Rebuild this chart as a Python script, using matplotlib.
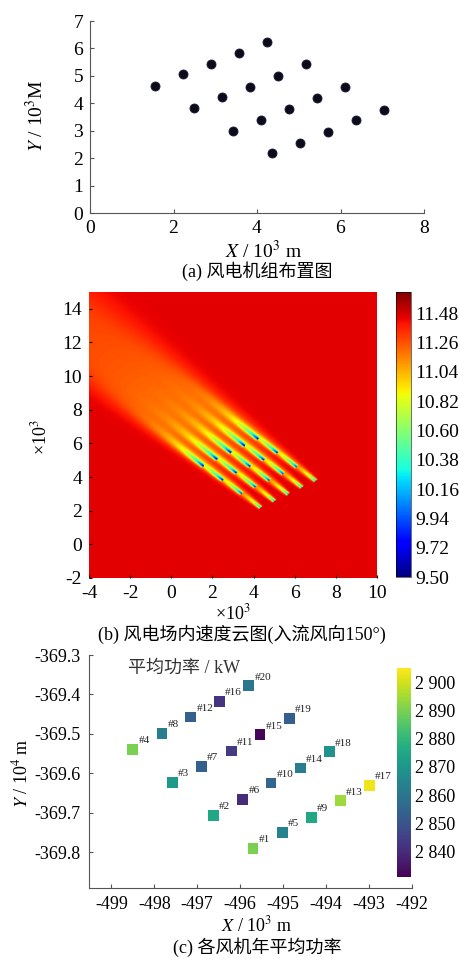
import numpy as np
import matplotlib
matplotlib.use('Agg')
import matplotlib.pyplot as plt

plt.rcParams['font.family'] = ['Liberation Serif', 'Noto Sans CJK SC']
plt.rcParams['mathtext.fontset'] = 'stix'
plt.rcParams['axes.unicode_minus'] = False

# (a) turbine layout, 10^3 m, turbines #1..#20
turb_x = [4.35, 3.43, 2.50, 1.56, 5.02, 4.10, 3.17, 2.22, 5.69, 4.77,
          3.84, 2.90, 6.36, 5.44, 4.51, 3.57, 7.03, 6.11, 5.17, 4.23]
turb_y = [2.17, 3.00, 3.81, 4.64, 2.57, 3.40, 4.23, 5.05, 2.97, 3.79,
          4.61, 5.45, 3.38, 4.19, 5.01, 5.85, 3.77, 4.59, 5.43, 6.25]

# (b) wind speed colour scale
spd_ticks = [9.50, 9.72, 9.94, 10.16, 10.38, 10.60, 10.82, 11.04, 11.26, 11.48]
spd_min, spd_max = 9.50, 11.64
u_inf = 11.45          # free stream speed
flow_deg = 135.5       # wake direction in plot coords

# (c) turbine positions (x: 10^3 m, y: 10^4 m) and mean power (kW)
pos_x = [-495.70, -496.63, -497.58, -498.50, -495.02, -495.94, -496.90, -497.82,
         -494.34, -495.28, -496.21, -497.15, -493.67, -494.60, -495.54, -496.49,
         -492.99, -493.92, -494.85, -495.80]
pos_y = [-369.790, -369.706, -369.623, -369.539, -369.749, -369.666, -369.582, -369.499,
         -369.711, -369.624, -369.543, -369.457, -369.669, -369.586, -369.502, -369.418,
         -369.630, -369.545, -369.461, -369.378]
power = [2890, 2875, 2871, 2890, 2864, 2840, 2853, 2862, 2875, 2855,
         2844, 2853, 2894, 2862, 2832, 2842, 2903, 2869, 2853, 2860]
pw_ticks = [2840, 2850, 2860, 2870, 2880, 2890, 2900]
pw_labels = ['2 840', '2 850', '2 860', '2 870', '2 880', '2 890', '2 900']

W, H = 459, 958
fig = plt.figure(figsize=(W / 100, H / 100), dpi=100)


def box(l, t, r, b):
    return [l / W, 1 - b / H, (r - l) / W, (b - t) / H]


def ftext(px, py, s, **kw):
    fig.text(px / W, 1 - py / H, s, ha='center', va='center', **kw)


# ---------- (a) layout ----------
ax1 = fig.add_axes(box(90, 21, 424, 213))
ax1.plot(turb_x, turb_y, 'o', color='#0a0a18', ms=6.5, mec='#1a1a3a', mew=0.6)
ax1.set_xlim(0, 8)
ax1.set_ylim(0, 7)
ax1.set_xticks([0, 2, 4, 6, 8])
ax1.set_yticks(range(0, 8))
for s in ['top', 'right']:
    ax1.spines[s].set_visible(False)
ax1.tick_params(direction='in', length=3, labelsize=14, pad=5, color='#555555')
for s in ['left', 'bottom']:
    ax1.spines[s].set_color('#555555')
ftext(36, 116, r'$Y$ / 10$^3$M', fontsize=14, rotation=90)
ftext(263, 251, r'$X$ / 10$^3$ m', fontsize=14)
ftext(257, 271, '(a) 风电机组布置图', fontsize=13)

# ---------- (b) speed field (simple gaussian wake superposition) ----------
gx = np.linspace(-4, 10, 351)
gy = np.linspace(-2, 15, 426)
X, Y = np.meshgrid(gx, gy)
ux, uy = np.cos(np.radians(flow_deg)), np.sin(np.radians(flow_deg))
amp0, sig0, k_sig, p_dec = 1.35, 0.06, 0.055, 1.75
deficit = np.zeros_like(X)
for xi, yi in zip(turb_x, turb_y):
    dx = X - xi
    dy = Y - yi
    down = dx * ux + dy * uy
    cross = -dx * uy + dy * ux
    sig = sig0 + k_sig * np.clip(down, 0, None)
    amp = amp0 * (sig0 / sig) ** p_dec
    deficit += np.where(down > 0, amp * np.exp(-cross ** 2 / (2 * sig ** 2)), 0.0)
speed = np.clip(u_inf - deficit, spd_min, None)

ax2 = fig.add_axes(box(89, 292, 377, 578))
im = ax2.imshow(speed, origin='lower', extent=[-4, 10, -2, 15], aspect='auto',
                cmap='jet', vmin=spd_min, vmax=spd_max, interpolation='bilinear')
ax2.set_xticks(range(-4, 11, 2))
ax2.set_yticks(range(-2, 15, 2))
ax2.tick_params(direction='in', length=2, labelsize=14, pad=5)
for s in ax2.spines.values():
    s.set_visible(False)
cax2 = fig.add_axes(box(396, 292, 411, 577))
cb2 = fig.colorbar(im, cax=cax2, ticks=spd_ticks)
cb2.ax.set_yticklabels(['%.2f' % v for v in spd_ticks])
cb2.ax.tick_params(length=0, labelsize=14, pad=3)
cb2.outline.set_linewidth(0.4)
ftext(233, 613, r'×10$^3$', fontsize=13)
ftext(40, 437, r'×10$^3$', fontsize=13, rotation=90)
ftext(242, 634, '(b) 风电场内速度云图(入流风向150°)', fontsize=13)

# ---------- (c) mean power ----------
ax3 = fig.add_axes(box(89, 655, 412, 888))
sc = ax3.scatter(pos_x, pos_y, c=power, cmap='viridis', vmin=2831, vmax=2905,
                 marker='s', s=60, edgecolors='none')
for i, (x, y) in enumerate(zip(pos_x, pos_y)):
    ax3.annotate('#%d' % (i + 1), (x, y), xytext=(4, 3), textcoords='offset points',
                 fontsize=8, ha='left', va='bottom', color='#222222')
ax3.set_xlim(-499.52, -492)
ax3.set_ylim(-369.89, -369.3)
ax3.set_xticks(range(-499, -491))
ax3.set_yticks([-369.3, -369.4, -369.5, -369.6, -369.7, -369.8])
ax3.set_yticklabels(['%.1f' % v for v in [-369.3, -369.4, -369.5, -369.6, -369.7, -369.8]])
for s in ['top', 'right']:
    ax3.spines[s].set_visible(False)
for s in ['left', 'bottom']:
    ax3.spines[s].set_color('#555555')
ax3.tick_params(direction='in', length=3, labelsize=13, pad=6, color='#555555')
cax3 = fig.add_axes(box(397, 668, 411, 877))
cb3 = fig.colorbar(sc, cax=cax3, ticks=pw_ticks)
cb3.ax.set_yticklabels(pw_labels)
cb3.ax.tick_params(length=0, labelsize=13, pad=3)
cb3.outline.set_visible(False)
fig.text(128 / W, 1 - 668 / H, '平均功率 / kW', fontsize=13, ha='left', va='center',
         color='#333333')
ftext(21, 773, r'$Y$ / 10$^4$ m', fontsize=13, rotation=90)
ftext(257, 925, r'$X$ / 10$^3$ m', fontsize=13)
ftext(257, 947, '(c) 各风机年平均功率', fontsize=13)

fig.savefig('out.png', dpi=100)
